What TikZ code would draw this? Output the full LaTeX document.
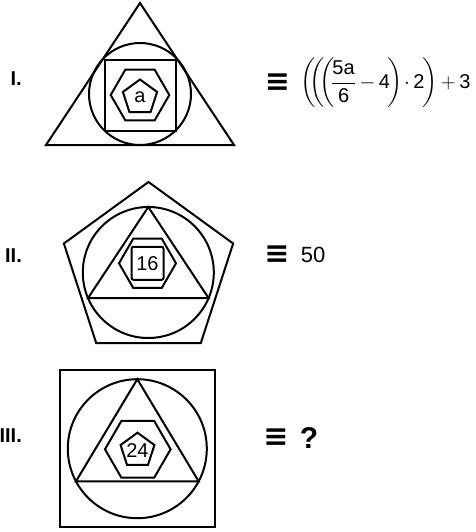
\documentclass[tikz,border=0pt]{standalone}
\usepackage{amsmath}
\usepackage{fontspec}
\setmainfont{Liberation Sans}
\newfontfamily\symfam{DejaVu Sans}
\usetikzlibrary{shapes.geometric,positioning}

\begin{document}
\begin{tikzpicture}[x=1pt, y=-1pt,
  wire/.style={line width=2pt, line join=miter},
  outl/.style={draw, wire, inner sep=0pt, outer sep=0pt},
  ring/.style={outl, circle},
  penta/.style={outl, regular polygon, regular polygon sides=5},
  hexa/.style={outl, regular polygon, regular polygon sides=6},
  sqr/.style={outl, rectangle},
  num/.style={font=\fontsize{20}{24}\selectfont, inner sep=0pt},
  roman/.style={font=\fontsize{20}{24}\selectfont\bfseries, anchor=east, inner sep=0pt},
  eqv/.style={font=\fontsize{30}{34}\selectfont\symfam\bfseries, inner sep=0pt},
  eqn/.style={font=\fontsize{20}{24}\selectfont, inner sep=0pt, anchor=west}]
\useasboundingbox (0,0) rectangle (475,532);

% I. triangle round circle round square
\coordinate (t1a) at (140,3);
\coordinate (t1b) at (46,145);
\coordinate (t1c) at (234,145);
\draw[wire] (t1a) -- (t1b) -- (t1c) -- cycle;
\node[ring, minimum size=102pt] (c1) at (140,94) {};
\node[sqr, minimum size=71pt] (s1) at (140,95.5) {};
\node[hexa, minimum size=58.6pt] (h1) at (140,95) {};
\node[penta, minimum size=36pt] (p1) at (140,97.5) {};
\node[num] (a1) at (p1) {a};
\node[roman] (l1) at (22,79) {I.};
\node[eqv] (q1) at (277.5,83) {≡};
\node[eqn, right=10pt of q1] (e1)
  {$\medmuskip=3mu\displaystyle\bigg(\mkern-5mu\bigg(\mkern-5mu\bigg(\mkern-3mu\frac{\mbox{5a}}{\mbox{6}}-\mbox{4}\mkern-2mu\bigg)\mkern-2mu\cdot\mbox{2}\mkern-2mu\bigg)+\mbox{3}$};

% II. pentagon round circle round triangle
\node[penta, minimum size=178pt] (p2) at (148.5,271) {};
\node[ring, minimum size=131pt] (c2) at (148.3,272.5) {};
\draw[wire] (c2.90) -- (c2.-157) -- (c2.-23) -- cycle;
\node[hexa, minimum size=57pt] (h2) at (147.5,263.3) {};
\node[sqr, minimum width=32pt, minimum height=33pt, rounded corners=2pt] (s2) at (147.5,263.3) {};
\node[num] (n2) at (s2) {16};
\node[roman] (l2) at (22,256) {II.};
\node[eqv] (q2) at (277,255) {≡};
\node[num, font=\fontsize{22}{26}\selectfont, right=11pt of q2] (r2) {50};

% III. square round circle round triangle
\node[sqr, minimum width=155pt, minimum height=156.5pt] (s3) at (137.5,448.3) {};
\node[ring, minimum size=139pt] (c3) at (137.3,448.7) {};
\draw[wire] (c3.90) -- (c3.-152) -- (c3.-28) -- cycle;
\node[hexa, minimum size=65.6pt] (h3) at (137.8,449.3) {};
\node[penta, minimum size=35.6pt] (p3) at (137.5,450.5) {};
\node[num] (n3) at (p3) {24};
\node[roman] (l3) at (22,436) {III.};
\node[eqv] (q3) at (276,438) {≡};
\node[num, font=\fontsize{30}{34}\selectfont\bfseries, right=11pt of q3] (r3) {?};
\end{tikzpicture}
\end{document}
